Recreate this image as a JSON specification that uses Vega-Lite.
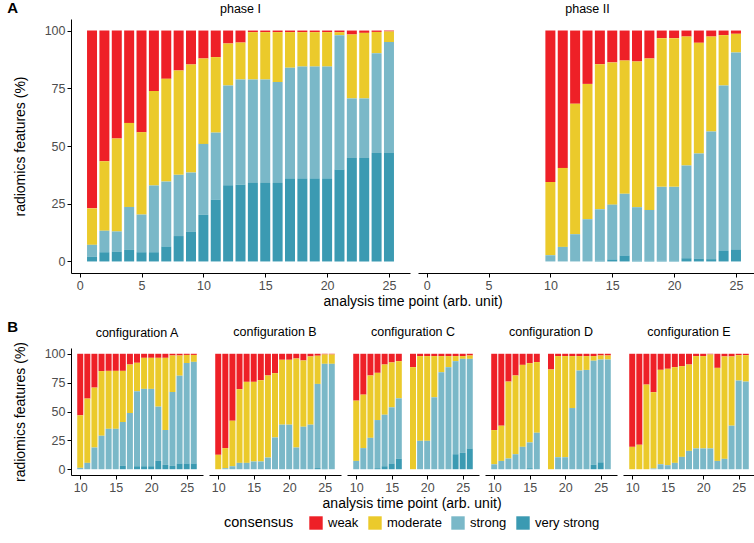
{
  "$schema": "https://vega.github.io/schema/vega-lite/v6.json",
  "padding": {"left": 7, "top": 0, "right": 0, "bottom": 0},
  "config": {
    "font": "Liberation Sans",
    "view": {"stroke": null},
    "axis": {"domainColor": "#000000", "domainWidth": 1, "tickColor": "#000000", "tickSize": 4, "tickWidth": 1, "labelColor": "#4D4D4D", "labelFontSize": 12.5, "labelPadding": 2, "grid": false, "titleFontSize": 14, "titleFontWeight": "normal", "titleColor": "#000000"},
    "axisY": {"titlePadding": 17},
    "title": {"fontSize": 12.5, "fontWeight": "normal", "color": "#000000", "offset": 4, "frame": "group"},
    "legend": {"titleFontSize": 14.5, "titleFontWeight": "normal", "labelFontSize": 13, "titleColor": "#000000", "labelColor": "#000000"},
    "concat": {"spacing": 10}
  },
  "datasets": {
    "ranks": [
      {"consensus": "very strong", "rank": 1},
      {"consensus": "strong", "rank": 2},
      {"consensus": "moderate", "rank": 3},
      {"consensus": "weak", "rank": 4}
    ],
    "bars": [
      {"panel": "phase I", "t": 1, "weak": 77, "moderate": 15.8, "strong": 5.2, "very strong": 2},
      {"panel": "phase I", "t": 2, "weak": 56.6, "moderate": 30.1, "strong": 9.3, "very strong": 4},
      {"panel": "phase I", "t": 3, "weak": 46.7, "moderate": 40.3, "strong": 8.7, "very strong": 4.3},
      {"panel": "phase I", "t": 4, "weak": 40, "moderate": 36.4, "strong": 18.6, "very strong": 5},
      {"panel": "phase I", "t": 5, "weak": 44, "moderate": 35.7, "strong": 16.3, "very strong": 4},
      {"panel": "phase I", "t": 6, "weak": 26.2, "moderate": 40.9, "strong": 28.9, "very strong": 4},
      {"panel": "phase I", "t": 7, "weak": 20.9, "moderate": 44.5, "strong": 28.1, "very strong": 6.5},
      {"panel": "phase I", "t": 8, "weak": 17.3, "moderate": 45.2, "strong": 26.5, "very strong": 11},
      {"panel": "phase I", "t": 9, "weak": 14.7, "moderate": 46.8, "strong": 25.7, "very strong": 12.8},
      {"panel": "phase I", "t": 10, "weak": 12.1, "moderate": 37, "strong": 30.7, "very strong": 20.2},
      {"panel": "phase I", "t": 11, "weak": 11.5, "moderate": 32.7, "strong": 29, "very strong": 26.8},
      {"panel": "phase I", "t": 12, "weak": 5.6, "moderate": 18.2, "strong": 43.2, "very strong": 33},
      {"panel": "phase I", "t": 13, "weak": 5.2, "moderate": 16, "strong": 45.5, "very strong": 33.3},
      {"panel": "phase I", "t": 14, "weak": 0.7, "moderate": 20.5, "strong": 44.8, "very strong": 34},
      {"panel": "phase I", "t": 15, "weak": 0.7, "moderate": 20.5, "strong": 44.8, "very strong": 34},
      {"panel": "phase I", "t": 16, "weak": 0.7, "moderate": 21.6, "strong": 43.7, "very strong": 34},
      {"panel": "phase I", "t": 17, "weak": 0.7, "moderate": 15.4, "strong": 47.9, "very strong": 36},
      {"panel": "phase I", "t": 18, "weak": 0.7, "moderate": 14.9, "strong": 48.4, "very strong": 36},
      {"panel": "phase I", "t": 19, "weak": 0.7, "moderate": 14.9, "strong": 48.4, "very strong": 36},
      {"panel": "phase I", "t": 20, "weak": 0.7, "moderate": 14.9, "strong": 48.4, "very strong": 36},
      {"panel": "phase I", "t": 21, "weak": 0.7, "moderate": 1.3, "strong": 58.2, "very strong": 39.8},
      {"panel": "phase I", "t": 22, "weak": 1.7, "moderate": 27.7, "strong": 25.8, "very strong": 44.8},
      {"panel": "phase I", "t": 23, "weak": 1, "moderate": 28.4, "strong": 25.8, "very strong": 44.8},
      {"panel": "phase I", "t": 24, "weak": 0.6, "moderate": 9.2, "strong": 43.2, "very strong": 47},
      {"panel": "phase I", "t": 25, "weak": 0.4, "moderate": 4.6, "strong": 48, "very strong": 47},

      {"panel": "phase II", "t": 10, "weak": 65.6, "moderate": 31.7, "strong": 2.7, "very strong": 0},
      {"panel": "phase II", "t": 11, "weak": 59.5, "moderate": 34.2, "strong": 6.3, "very strong": 0},
      {"panel": "phase II", "t": 12, "weak": 31.7, "moderate": 56.5, "strong": 11.8, "very strong": 0},
      {"panel": "phase II", "t": 13, "weak": 23.1, "moderate": 58.6, "strong": 18.3, "very strong": 0},
      {"panel": "phase II", "t": 14, "weak": 14.6, "moderate": 62.8, "strong": 22.3, "very strong": 0.3},
      {"panel": "phase II", "t": 15, "weak": 13.8, "moderate": 61.6, "strong": 23.7, "very strong": 0.9},
      {"panel": "phase II", "t": 16, "weak": 13, "moderate": 57.7, "strong": 26.7, "very strong": 2.6},
      {"panel": "phase II", "t": 17, "weak": 13.4, "moderate": 63.1, "strong": 23.2, "very strong": 0.3},
      {"panel": "phase II", "t": 18, "weak": 12.1, "moderate": 65.6, "strong": 21.9, "very strong": 0.4},
      {"panel": "phase II", "t": 19, "weak": 3.3, "moderate": 64.4, "strong": 32, "very strong": 0.3},
      {"panel": "phase II", "t": 20, "weak": 3.3, "moderate": 64.4, "strong": 31.9, "very strong": 0.4},
      {"panel": "phase II", "t": 21, "weak": 2.6, "moderate": 55.8, "strong": 40.2, "very strong": 1.4},
      {"panel": "phase II", "t": 22, "weak": 5.3, "moderate": 47.9, "strong": 45.6, "very strong": 1.2},
      {"panel": "phase II", "t": 23, "weak": 2.6, "moderate": 41.1, "strong": 55.3, "very strong": 1},
      {"panel": "phase II", "t": 24, "weak": 2, "moderate": 21.8, "strong": 71.4, "very strong": 4.8},
      {"panel": "phase II", "t": 25, "weak": 1.4, "moderate": 8.1, "strong": 85.5, "very strong": 5},

      {"panel": "configuration A", "t": 10, "weak": 53.3, "moderate": 45.5, "strong": 1.2, "very strong": 0},
      {"panel": "configuration A", "t": 11, "weak": 38.8, "moderate": 55.7, "strong": 5.5, "very strong": 0},
      {"panel": "configuration A", "t": 12, "weak": 29.3, "moderate": 51.9, "strong": 18.8, "very strong": 0},
      {"panel": "configuration A", "t": 13, "weak": 15, "moderate": 56, "strong": 29, "very strong": 0},
      {"panel": "configuration A", "t": 14, "weak": 14.8, "moderate": 50.2, "strong": 35, "very strong": 0},
      {"panel": "configuration A", "t": 15, "weak": 14.8, "moderate": 50.2, "strong": 35, "very strong": 0},
      {"panel": "configuration A", "t": 16, "weak": 14.8, "moderate": 44.3, "strong": 38, "very strong": 2.9},
      {"panel": "configuration A", "t": 17, "weak": 9.3, "moderate": 42, "strong": 48.7, "very strong": 0},
      {"panel": "configuration A", "t": 18, "weak": 7.8, "moderate": 24.7, "strong": 64.9, "very strong": 2.6},
      {"panel": "configuration A", "t": 19, "weak": 3.5, "moderate": 26.9, "strong": 67, "very strong": 2.6},
      {"panel": "configuration A", "t": 20, "weak": 3.5, "moderate": 26.9, "strong": 67, "very strong": 2.6},
      {"panel": "configuration A", "t": 21, "weak": 3.5, "moderate": 42.3, "strong": 47, "very strong": 7.2},
      {"panel": "configuration A", "t": 22, "weak": 3.5, "moderate": 62.5, "strong": 30.2, "very strong": 3.8},
      {"panel": "configuration A", "t": 23, "weak": 1.5, "moderate": 31.6, "strong": 64, "very strong": 2.9},
      {"panel": "configuration A", "t": 24, "weak": 1.5, "moderate": 17.5, "strong": 76, "very strong": 5},
      {"panel": "configuration A", "t": 25, "weak": 1, "moderate": 7, "strong": 87, "very strong": 5},
      {"panel": "configuration A", "t": 26, "weak": 1, "moderate": 6, "strong": 88, "very strong": 5},

      {"panel": "configuration B", "t": 10, "weak": 87.5, "moderate": 12.5, "strong": 0, "very strong": 0},
      {"panel": "configuration B", "t": 11, "weak": 81.7, "moderate": 17.4, "strong": 0.9, "very strong": 0},
      {"panel": "configuration B", "t": 12, "weak": 58, "moderate": 39.4, "strong": 2.6, "very strong": 0},
      {"panel": "configuration B", "t": 13, "weak": 30.7, "moderate": 63.8, "strong": 5.5, "very strong": 0},
      {"panel": "configuration B", "t": 14, "weak": 24.3, "moderate": 70.2, "strong": 5.5, "very strong": 0},
      {"panel": "configuration B", "t": 15, "weak": 24.3, "moderate": 69, "strong": 6.7, "very strong": 0},
      {"panel": "configuration B", "t": 16, "weak": 22.9, "moderate": 70.4, "strong": 6.7, "very strong": 0},
      {"panel": "configuration B", "t": 17, "weak": 18.8, "moderate": 71.1, "strong": 10.1, "very strong": 0},
      {"panel": "configuration B", "t": 18, "weak": 16.8, "moderate": 55.7, "strong": 27.5, "very strong": 0},
      {"panel": "configuration B", "t": 19, "weak": 5.2, "moderate": 56.2, "strong": 38.6, "very strong": 0},
      {"panel": "configuration B", "t": 20, "weak": 5.2, "moderate": 56.2, "strong": 38.6, "very strong": 0},
      {"panel": "configuration B", "t": 21, "weak": 4.1, "moderate": 77.1, "strong": 18.8, "very strong": 0},
      {"panel": "configuration B", "t": 22, "weak": 5.8, "moderate": 57.4, "strong": 36.8, "very strong": 0},
      {"panel": "configuration B", "t": 23, "weak": 2.3, "moderate": 59.1, "strong": 38.6, "very strong": 0},
      {"panel": "configuration B", "t": 24, "weak": 1.7, "moderate": 24.4, "strong": 72.9, "very strong": 1},
      {"panel": "configuration B", "t": 25, "weak": 0.6, "moderate": 8.1, "strong": 90.7, "very strong": 0.6},
      {"panel": "configuration B", "t": 26, "weak": 0.6, "moderate": 8.1, "strong": 91.3, "very strong": 0},

      {"panel": "configuration C", "t": 10, "weak": 40.6, "moderate": 52.2, "strong": 7.2, "very strong": 0},
      {"panel": "configuration C", "t": 11, "weak": 35.4, "moderate": 46.3, "strong": 18.3, "very strong": 0},
      {"panel": "configuration C", "t": 12, "weak": 18.8, "moderate": 54, "strong": 27.2, "very strong": 0},
      {"panel": "configuration C", "t": 13, "weak": 16.5, "moderate": 40.9, "strong": 41.7, "very strong": 0.9},
      {"panel": "configuration C", "t": 14, "weak": 9.3, "moderate": 43.5, "strong": 44.6, "very strong": 2.6},
      {"panel": "configuration C", "t": 15, "weak": 7.5, "moderate": 38.9, "strong": 48.6, "very strong": 5},
      {"panel": "configuration C", "t": 16, "weak": 6.4, "moderate": 32.2, "strong": 52.4, "very strong": 9},
      {"panel": "configuration C", "t": 18, "weak": 11.6, "moderate": 88.4, "strong": 0, "very strong": 0},
      {"panel": "configuration C", "t": 19, "weak": 2, "moderate": 73.4, "strong": 24.6, "very strong": 0},
      {"panel": "configuration C", "t": 20, "weak": 2, "moderate": 73.4, "strong": 24.6, "very strong": 0},
      {"panel": "configuration C", "t": 21, "weak": 2, "moderate": 35.7, "strong": 62.3, "very strong": 0},
      {"panel": "configuration C", "t": 22, "weak": 2, "moderate": 14, "strong": 84, "very strong": 0},
      {"panel": "configuration C", "t": 23, "weak": 2, "moderate": 9.6, "strong": 88.4, "very strong": 0},
      {"panel": "configuration C", "t": 24, "weak": 2, "moderate": 4.4, "strong": 80.6, "very strong": 13},
      {"panel": "configuration C", "t": 25, "weak": 2, "moderate": 2.4, "strong": 81.4, "very strong": 14.2},
      {"panel": "configuration C", "t": 26, "weak": 1.5, "moderate": 2.9, "strong": 77.6, "very strong": 18},

      {"panel": "configuration D", "t": 10, "weak": 66.1, "moderate": 29.6, "strong": 4.3, "very strong": 0},
      {"panel": "configuration D", "t": 11, "weak": 62.3, "moderate": 30.5, "strong": 7.2, "very strong": 0},
      {"panel": "configuration D", "t": 12, "weak": 24.1, "moderate": 66.6, "strong": 9.3, "very strong": 0},
      {"panel": "configuration D", "t": 13, "weak": 18.8, "moderate": 68.2, "strong": 13, "very strong": 0},
      {"panel": "configuration D", "t": 14, "weak": 9.6, "moderate": 71, "strong": 19.4, "very strong": 0},
      {"panel": "configuration D", "t": 15, "weak": 8.1, "moderate": 68.7, "strong": 22.3, "very strong": 0.9},
      {"panel": "configuration D", "t": 16, "weak": 7.2, "moderate": 61.2, "strong": 31.6, "very strong": 0},
      {"panel": "configuration D", "t": 18, "weak": 13.6, "moderate": 86.4, "strong": 0, "very strong": 0},
      {"panel": "configuration D", "t": 19, "weak": 2, "moderate": 87.6, "strong": 10.4, "very strong": 0},
      {"panel": "configuration D", "t": 20, "weak": 2, "moderate": 87.6, "strong": 10.4, "very strong": 0},
      {"panel": "configuration D", "t": 21, "weak": 2, "moderate": 45, "strong": 53, "very strong": 0},
      {"panel": "configuration D", "t": 22, "weak": 2, "moderate": 12.5, "strong": 85.5, "very strong": 0},
      {"panel": "configuration D", "t": 23, "weak": 2, "moderate": 12, "strong": 86, "very strong": 0},
      {"panel": "configuration D", "t": 24, "weak": 2, "moderate": 4, "strong": 90, "very strong": 4},
      {"panel": "configuration D", "t": 25, "weak": 1.5, "moderate": 3.5, "strong": 89, "very strong": 6},
      {"panel": "configuration D", "t": 26, "weak": 1.5, "moderate": 3.5, "strong": 95, "very strong": 0},

      {"panel": "configuration E", "t": 10, "weak": 80.6, "moderate": 19.4, "strong": 0, "very strong": 0},
      {"panel": "configuration E", "t": 11, "weak": 78.8, "moderate": 21.2, "strong": 0, "very strong": 0},
      {"panel": "configuration E", "t": 12, "weak": 26.7, "moderate": 73.3, "strong": 0, "very strong": 0},
      {"panel": "configuration E", "t": 13, "weak": 33.3, "moderate": 66.1, "strong": 0.6, "very strong": 0},
      {"panel": "configuration E", "t": 14, "weak": 13.9, "moderate": 81.8, "strong": 4.3, "very strong": 0},
      {"panel": "configuration E", "t": 15, "weak": 13, "moderate": 83.5, "strong": 3.5, "very strong": 0},
      {"panel": "configuration E", "t": 16, "weak": 11.6, "moderate": 82.9, "strong": 5.5, "very strong": 0},
      {"panel": "configuration E", "t": 17, "weak": 10.7, "moderate": 78.6, "strong": 10.7, "very strong": 0},
      {"panel": "configuration E", "t": 18, "weak": 9.3, "moderate": 74.8, "strong": 15.9, "very strong": 0},
      {"panel": "configuration E", "t": 19, "weak": 2, "moderate": 80, "strong": 18, "very strong": 0},
      {"panel": "configuration E", "t": 20, "weak": 2, "moderate": 80, "strong": 18, "very strong": 0},
      {"panel": "configuration E", "t": 21, "weak": 0.6, "moderate": 81.4, "strong": 18, "very strong": 0},
      {"panel": "configuration E", "t": 22, "weak": 12.2, "moderate": 80.6, "strong": 7.2, "very strong": 0},
      {"panel": "configuration E", "t": 23, "weak": 2.3, "moderate": 88.7, "strong": 9, "very strong": 0},
      {"panel": "configuration E", "t": 24, "weak": 2.3, "moderate": 60, "strong": 37.7, "very strong": 0},
      {"panel": "configuration E", "t": 25, "weak": 1.2, "moderate": 22, "strong": 76.8, "very strong": 0},
      {"panel": "configuration E", "t": 26, "weak": 1.2, "moderate": 22.9, "strong": 75.9, "very strong": 0}
    ]
  },
  "data": {"name": "bars"},
  "transform": [
    {"fold": ["weak", "moderate", "strong", "very strong"], "as": ["consensus", "pct"]},
    {"lookup": "consensus", "from": {"data": {"name": "ranks"}, "key": "consensus", "fields": ["rank"]}}
  ],
  "vconcat": [
    {
      "title": {"text": "A", "anchor": "start", "frame": "bounds", "fontSize": 15, "fontWeight": "bold", "offset": -13, "dx": -6},
      "vconcat": [
        {
          "title": {"text": "analysis time point (arb. unit)", "orient": "bottom", "anchor": "middle", "frame": "bounds", "fontSize": 14, "offset": 3, "dx": 28},
          "spacing": 8,
          "hconcat": [
            {
              "title": "phase I",
              "width": 339, "height": 254,
              "transform": [{"filter": "datum.panel === 'phase I'"}],
              "mark": {"type": "bar", "width": 10},
              "encoding": {
                "x": {"field": "t", "type": "quantitative", "scale": {"domain": [-0.7, 26.7], "nice": false, "zero": false, "padding": 0}, "axis": {"values": [0, 5, 10, 15, 20, 25], "title": null}},
                "y": {"field": "pct", "type": "quantitative", "stack": "zero", "scale": {"domain": [-5, 105], "nice": false, "zero": false}, "axis": {"values": [0, 25, 50, 75, 100], "title": "radiomics features (%)"}},
                "color": {"field": "consensus", "type": "nominal", "scale": {"domain": ["weak", "moderate", "strong", "very strong"], "range": ["#EE2027", "#EBCA2B", "#7AB8C8", "#3B9AB2"]}, "legend": {"orient": "none", "legendX": 153, "legendY": 497, "direction": "horizontal", "titleOrient": "left", "symbolType": "square", "symbolSize": 180, "symbolStrokeWidth": 0, "columnPadding": 9, "labelOffset": 5, "titlePadding": 15}},
                "order": {"field": "rank", "type": "quantitative"}
              }
            },
            {
              "title": "phase II",
              "width": 339, "height": 254,
              "transform": [{"filter": "datum.panel === 'phase II'"}],
              "mark": {"type": "bar", "width": 10},
              "encoding": {
                "x": {"field": "t", "type": "quantitative", "scale": {"domain": [-0.7, 26.7], "nice": false, "zero": false, "padding": 0}, "axis": {"values": [0, 5, 10, 15, 20, 25], "title": null}},
                "y": {"field": "pct", "type": "quantitative", "stack": "zero", "scale": {"domain": [-5, 105], "nice": false, "zero": false}, "axis": null},
                "color": {"field": "consensus", "type": "nominal"},
                "order": {"field": "rank", "type": "quantitative"}
              }
            }
          ]
        }
      ]
    },
    {
      "title": {"text": "B", "anchor": "start", "frame": "bounds", "fontSize": 15, "fontWeight": "bold", "offset": -9, "dx": -6},
      "vconcat": [
        {
          "title": {"text": "analysis time point (arb. unit)", "orient": "bottom", "anchor": "middle", "frame": "bounds", "fontSize": 14, "offset": 3, "dx": 28},
          "spacing": 6,
          "hconcat": [
            {
              "title": {"text": "configuration A", "offset": 2},
              "width": 132, "height": 127,
              "transform": [{"filter": "datum.panel === 'configuration A'"}],
              "mark": {"type": "bar", "width": 6},
              "encoding": {
                "x": {"field": "t", "type": "quantitative", "scale": {"domain": [8.7, 27.3], "nice": false, "zero": false, "padding": 0}, "axis": {"values": [10, 15, 20, 25], "title": null}},
                "y": {"field": "pct", "type": "quantitative", "stack": "zero", "scale": {"domain": [-5, 105], "nice": false, "zero": false}, "axis": {"values": [0, 25, 50, 75, 100], "title": "radiomics features (%)"}},
                "color": {"field": "consensus", "type": "nominal"},
                "order": {"field": "rank", "type": "quantitative"}
              }
            },
            {
              "title": {"text": "configuration B", "offset": 10},
              "width": 132, "height": 127,
              "transform": [{"filter": "datum.panel === 'configuration B'"}],
              "mark": {"type": "bar", "width": 6},
              "encoding": {
                "x": {"field": "t", "type": "quantitative", "scale": {"domain": [8.7, 27.3], "nice": false, "zero": false, "padding": 0}, "axis": {"values": [10, 15, 20, 25], "title": null}},
                "y": {"field": "pct", "type": "quantitative", "stack": "zero", "scale": {"domain": [-5, 105], "nice": false, "zero": false}, "axis": null},
                "color": {"field": "consensus", "type": "nominal"},
                "order": {"field": "rank", "type": "quantitative"}
              }
            },
            {
              "title": {"text": "configuration C", "offset": 10},
              "width": 132, "height": 127,
              "transform": [{"filter": "datum.panel === 'configuration C'"}],
              "mark": {"type": "bar", "width": 6},
              "encoding": {
                "x": {"field": "t", "type": "quantitative", "scale": {"domain": [8.7, 27.3], "nice": false, "zero": false, "padding": 0}, "axis": {"values": [10, 15, 20, 25], "title": null}},
                "y": {"field": "pct", "type": "quantitative", "stack": "zero", "scale": {"domain": [-5, 105], "nice": false, "zero": false}, "axis": null},
                "color": {"field": "consensus", "type": "nominal"},
                "order": {"field": "rank", "type": "quantitative"}
              }
            },
            {
              "title": {"text": "configuration D", "offset": 10},
              "width": 132, "height": 127,
              "transform": [{"filter": "datum.panel === 'configuration D'"}],
              "mark": {"type": "bar", "width": 6},
              "encoding": {
                "x": {"field": "t", "type": "quantitative", "scale": {"domain": [8.7, 27.3], "nice": false, "zero": false, "padding": 0}, "axis": {"values": [10, 15, 20, 25], "title": null}},
                "y": {"field": "pct", "type": "quantitative", "stack": "zero", "scale": {"domain": [-5, 105], "nice": false, "zero": false}, "axis": null},
                "color": {"field": "consensus", "type": "nominal"},
                "order": {"field": "rank", "type": "quantitative"}
              }
            },
            {
              "title": {"text": "configuration E", "offset": 10},
              "width": 132, "height": 127,
              "transform": [{"filter": "datum.panel === 'configuration E'"}],
              "mark": {"type": "bar", "width": 6},
              "encoding": {
                "x": {"field": "t", "type": "quantitative", "scale": {"domain": [8.7, 27.3], "nice": false, "zero": false, "padding": 0}, "axis": {"values": [10, 15, 20, 25], "title": null}},
                "y": {"field": "pct", "type": "quantitative", "stack": "zero", "scale": {"domain": [-5, 105], "nice": false, "zero": false}, "axis": null},
                "color": {"field": "consensus", "type": "nominal"},
                "order": {"field": "rank", "type": "quantitative"}
              }
            }
          ]
        }
      ]
    }
  ]
}
